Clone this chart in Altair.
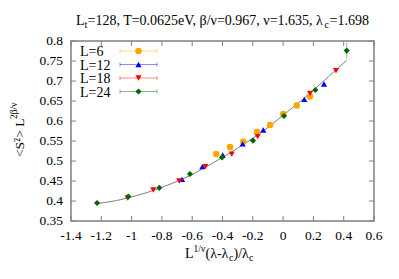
import altair as alt
import pandas as pd

FONT = "Liberation Serif"

# ---- data ----
x_L6 = [-0.441, -0.350, -0.263, -0.172, -0.086, 0.001, 0.090, 0.178]
y_L6 = [0.5175, 0.535, 0.548, 0.5725, 0.590, 0.6175, 0.639, 0.661]
e_L6 = [0.003, 0.003, 0.003, 0.003, 0.003, 0.003, 0.003, 0.003]

x_L12 = [-0.667, -0.533, -0.399, -0.267, -0.131, 0.140, 0.270]
y_L12 = [0.454, 0.486, 0.515, 0.543, 0.5775, 0.654, 0.6925]
e_L12 = [0.003, 0.003, 0.003, 0.003, 0.003, 0.003, 0.003]

x_L18 = [-1.026, -0.857, -0.685, -0.513, -0.339, -0.168, 0.178, 0.349]
y_L18 = [0.407, 0.4275, 0.450, 0.486, 0.517, 0.561, 0.669, 0.726]
e_L18 = [0.003, 0.003, 0.003, 0.003, 0.003, 0.003, 0.003, 0.005]

x_L24 = [-1.228, -1.022, -0.817, -0.615, -0.403, -0.199, 0.006, 0.213, 0.420]
y_L24 = [0.395, 0.411, 0.433, 0.4675, 0.509, 0.551, 0.6125, 0.6775, 0.776]
e_L24 = [0.003, 0.003, 0.003, 0.003, 0.003, 0.003, 0.003, 0.004, 0.020]

fit_x = [-1.23, -1.1, -1.0, -0.9, -0.8, -0.7, -0.6, -0.5, -0.4, -0.3, -0.2, -0.1, 0.0, 0.1, 0.2, 0.3, 0.42]
fit_y = [0.393, 0.401, 0.410, 0.421, 0.434, 0.449, 0.466, 0.487, 0.509, 0.532, 0.557, 0.584, 0.614, 0.645, 0.677, 0.711, 0.752]

series = ["L=6", "L=12", "L=18", "L=24"]
colors = ["#FFA500", "#0000FF", "#FF0000", "#006400"]
shapes = ["circle", "triangle-up", "triangle-down", "diamond"]
sizes = [42, 38, 38, 38]

x_ticks = [-1.4, -1.2, -1.0, -0.8, -0.6, -0.4, -0.2, 0.0, 0.2, 0.4, 0.6]
y_ticks = [0.35, 0.4, 0.45, 0.5, 0.55, 0.6, 0.65, 0.7, 0.75, 0.8]

W, H = 303, 180

xs = alt.Scale(domain=[-1.4, 0.6], nice=False, zero=False)
ys = alt.Scale(domain=[0.35, 0.8], nice=False, zero=False)

rows = []
for name, xx, yy, ee in [("L=6", x_L6, y_L6, e_L6), ("L=12", x_L12, y_L12, e_L12),
                         ("L=18", x_L18, y_L18, e_L18), ("L=24", x_L24, y_L24, e_L24)]:
    for a, b, c in zip(xx, yy, ee):
        rows.append({"L": name, "x": a, "y": b, "lo": b - c, "hi": b + c})
df = pd.DataFrame(rows)
fit = pd.DataFrame({"x": fit_x, "y": fit_y})

base_axes = alt.Chart(fit).mark_line(color="#808080", strokeWidth=1).encode(
    x=alt.X("x:Q", scale=xs, axis=None),
    y=alt.Y("y:Q", scale=ys, axis=None),
)

layers = [base_axes]

for name, col, shp, sz in zip(series, colors, shapes, sizes):
    sub = df[df.L == name]
    layers.append(alt.Chart(sub).mark_rule(color=col, opacity=0.45, strokeWidth=1).encode(
        x="x:Q", y="lo:Q", y2="hi:Q"))
    layers.append(alt.Chart(sub).mark_point(shape=shp, filled=True, color=col, size=sz, opacity=1).encode(
        x="x:Q", y="y:Q"))

# inward ticks on all four sides + tick labels
xt = pd.DataFrame({"v": x_ticks})
yt = pd.DataFrame({"v": y_ticks})
tick_col = "#808080"
lab = "replace(format(datum.v, '.2~f'), '\u2212', '-')"
layers.append(alt.Chart(xt).mark_rule(color=tick_col).encode(x="v:Q", y=alt.value(H), y2=alt.value(H - 5)))
layers.append(alt.Chart(xt).mark_rule(color=tick_col).encode(x="v:Q", y=alt.value(0), y2=alt.value(5)))
layers.append(alt.Chart(yt).mark_rule(color=tick_col).encode(y="v:Q", x=alt.value(0), x2=alt.value(5)))
layers.append(alt.Chart(yt).mark_rule(color=tick_col).encode(y="v:Q", x=alt.value(W), x2=alt.value(W - 5)))
layers.append(alt.Chart(xt).transform_calculate(lab=lab).mark_text(
    font=FONT, fontSize=13.5, align="center", baseline="alphabetic", color="black").encode(
    x="v:Q", y=alt.value(H + 19), text="lab:N"))
layers.append(alt.Chart(yt).transform_calculate(lab=lab).mark_text(
    font=FONT, fontSize=13.5, align="right", baseline="middle", color="black").encode(
    y="v:Q", x=alt.value(-8), text="lab:N"))

# legend
leg_y = [10, 23.5, 37, 50.5]
one = pd.DataFrame({"a": [0]})
for name, col, shp, sz, ly in zip(series, colors, shapes, sizes, leg_y):
    layers.append(alt.Chart(one).mark_text(text=name, font=FONT, fontSize=14, align="left", baseline="middle",
                                           color="black").encode(x=alt.value(9), y=alt.value(ly + 1)))
    layers.append(alt.Chart(one).mark_rule(color=col, opacity=0.45).encode(
        x=alt.value(49), x2=alt.value(86), y=alt.value(ly)))
    layers.append(alt.Chart(one).mark_rule(color=col, opacity=0.45).encode(
        x=alt.value(49), y=alt.value(ly - 2), y2=alt.value(ly + 2)))
    layers.append(alt.Chart(one).mark_rule(color=col, opacity=0.45).encode(
        x=alt.value(86), y=alt.value(ly - 2), y2=alt.value(ly + 2)))
    layers.append(alt.Chart(one).mark_point(shape=shp, filled=True, color=col, size=sz, opacity=1).encode(
        x=alt.value(67.5), y=alt.value(ly)))


def txt(s, x, y, size=14, angle=0, align="left"):
    kw = dict(text=s, font=FONT, fontSize=size, align=align, baseline="alphabetic", color="black")
    if angle:
        kw["angle"] = angle
    return alt.Chart(one).mark_text(**kw).encode(x=alt.value(x), y=alt.value(y))


# title
layers += [
    txt("L", 5, -16, 14),
    txt("t", 13.5, -13, 10),
    txt("=128, T=0.0625eV, β/ν=0.967, ν=1.635, λ", 16.5, -16, 14),
    txt("c", 253.5, -13, 10),
    txt("=1.698", 258.5, -16, 14),
]
# x label
layers += [
    txt("L", 114, 217, 14),
    txt("1/ν", 122.5, 211, 9.5),
    txt("(λ-λ", 134.5, 217, 14),
    txt("c", 158, 220, 10),
    txt(")/λ", 162.5, 217, 14),
    txt("c", 178, 220, 10),
]
# y label (rotated): main part then superscript
layers += [
    txt("<S²> L", -47, 116, 13.5, 270),
    txt("2β/ν", -54, 78, 9.5, 270),
]

chart = alt.layer(*layers).properties(
    width=W, height=H,
    padding={"left": 63, "top": 33, "right": 17, "bottom": 50},
    autosize=alt.AutoSizeParams(type="none"),
).configure_view(stroke="#808080", strokeWidth=1.5)

chart.save("out.html", embed_options={"renderer": "svg", "actions": False})
